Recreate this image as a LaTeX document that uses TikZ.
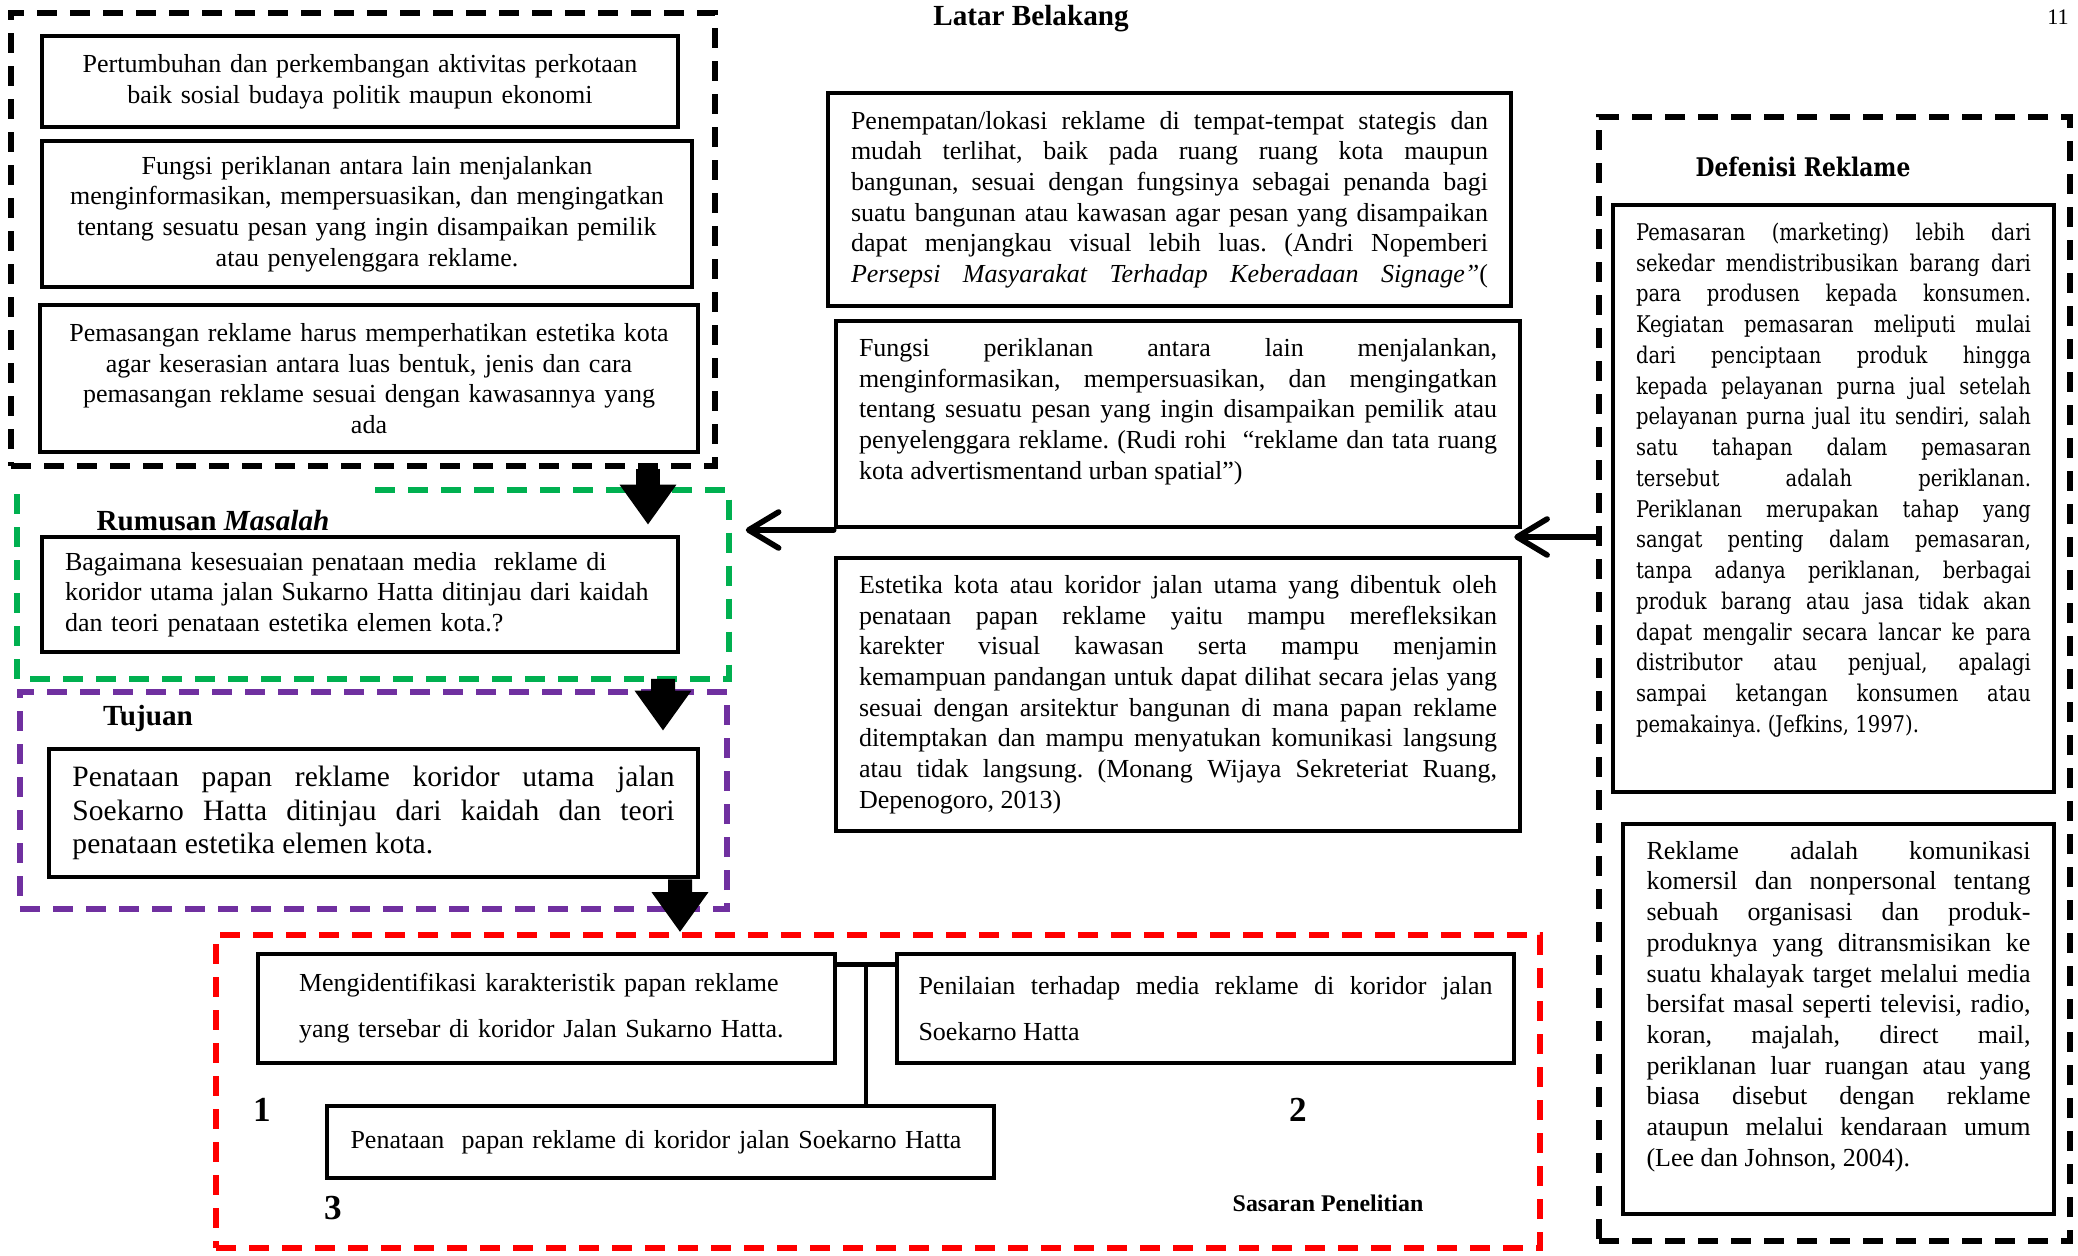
\documentclass[tikz,border=0pt]{standalone}
\usepackage{fontspec}
\setmainfont{Liberation Serif}
\newfontfamily\schoolfont[FakeStretch=0.85]{DejaVu Serif}
\usepackage{xcolor}
\usepackage{tikz}
\usetikzlibrary{arrows.meta,calc}
\definecolor{framegreen}{RGB}{0,176,80}
\definecolor{framepurple}{RGB}{112,48,160}
\definecolor{framered}{RGB}{255,0,0}
\hyphenpenalty=10000
\tolerance=10000
\frenchspacing
\newcommand{\boxfont}{\fontsize{7.4}{8.73}\selectfont}
\newcommand{\tujuanfont}{\fontsize{8.4}{9.6}\selectfont}
\newcommand{\sasaranfont}{\fontsize{7.4}{13.1}\selectfont}
\newcommand{\schoolboxfont}{\schoolfont\fontsize{6.55}{8.75}\selectfont}
\newcommand{\headfont}{\fontsize{8.3}{10}\selectfont\bfseries}
\newcommand{\bottomgap}[1]{\par\vbox to #1{}}

\begin{document}
\begin{tikzpicture}[x=1cm, y=-1cm,
  textbox/.style={draw, rectangle, line width=1.3pt, inner sep=0pt, font=\boxfont},
  dashline/.style={line width=1.6pt, dash pattern=on 0.2cm off 0.13cm},
  dashbox/.style={dashline, rectangle, inner sep=0pt},
  headtext/.style={font=\headfont, inner sep=0pt},
  numlabel/.style={font=\fontsize{10}{12}\selectfont\bfseries, inner sep=0pt},
  blockarrow/.style={line width=0.24cm, -{Triangle[length=0.4cm, width=0.54cm]}},
  linearrow/.style={line width=1.6pt, line cap=round, -{Straight Barb[length=0.3cm, width=0.36cm, round]}},
  link/.style={line width=1.3pt}]
\useasboundingbox (0,0) rectangle (20.78,12.56);

% Latar belakang
\node[headtext] (latarhead) at (10.31,0.19) {Latar Belakang};
\node[font=\fontsize{6.3}{7}\selectfont, inner sep=0pt] (page) at (20.58,0.17) {11};
\node[dashbox, draw=black, minimum width=7.04cm, minimum height=4.53cm] (latar) at (3.63,2.395) {};
\node[textbox, minimum width=6.36cm, minimum height=0.91cm, text width=6.0cm, align=center] (tumbuh) at (3.60,0.815) {Pertumbuhan dan perkembangan aktivitas perkotaan\\ baik sosial budaya politik maupun ekonomi};
\node[textbox, minimum width=6.50cm, minimum height=1.46cm, text width=6.3cm, align=center] (fungsi) at (3.67,2.14) {Fungsi periklanan antara lain menjalankan\\ menginformasikan, mempersuasikan, dan mengingatkan\\ tentang sesuatu pesan yang ingin disampaikan pemilik\\ atau penyelenggara reklame.};
\node[textbox, minimum width=6.58cm, minimum height=1.47cm, text width=6.3cm, align=center] (pasang) at (3.69,3.785) {Pemasangan reklame harus memperhatikan estetika kota\\ agar keserasian antara luas bentuk, jenis dan cara\\ pemasangan reklame sesuai dengan kawasannya yang\\ ada};

% Rumusan masalah
\node[dashbox, minimum width=7.06cm, minimum height=1.83cm] (rumusan) at (3.73,5.845) {};
\draw[dashline, framegreen] ([xshift=3.58cm]rumusan.north west) -- (rumusan.north east) -- (rumusan.south east) -- (rumusan.south west) -- (rumusan.north west) -- ++(0.08,0);
\node[headtext] (rumusanhead) at (2.13,5.21) {Rumusan \textit{Masalah}};
\node[textbox, minimum width=6.36cm, minimum height=1.15cm, text width=5.9cm, align=left] (bagaimana) at (3.60,5.945) {Bagaimana kesesuaian penataan media \ reklame di\\ koridor utama jalan Sukarno Hatta ditinjau dari kaidah\\ dan teori penataan estetika elemen kota.?};

% Tujuan
\node[dashbox, draw=framepurple, minimum width=7.07cm, minimum height=2.17cm] (tujuan) at (3.735,8.005) {};
\node[headtext] (tujuanhead) at (1.48,7.18) {Tujuan};
\node[textbox, font=\tujuanfont, minimum width=6.49cm, minimum height=1.28cm, text width=6.02cm, align=justify] (penataan) at (3.735,8.13) {Penataan papan reklame koridor utama jalan \linebreak Soekarno Hatta ditinjau dari kaidah dan teori \linebreak penataan estetika elemen kota.};

% Sasaran penelitian
\node[dashbox, draw=framered, minimum width=13.24cm, minimum height=3.13cm] (sasaran) at (8.78,10.915) {};
\node[textbox, font=\sasaranfont, minimum width=5.77cm, minimum height=1.09cm, text width=4.95cm, align=left] (identifikasi) at (5.465,10.085) {Mengidentifikasi karakteristik papan reklame\\ yang tersebar di koridor Jalan Sukarno Hatta.};
\node[textbox, font=\sasaranfont, minimum width=6.17cm, minimum height=1.09cm, text width=5.74cm, align=justify] (penilaian) at (12.055,10.085) {Penilaian terhadap media reklame di koridor jalan \linebreak Soekarno Hatta};
\node[textbox, minimum width=6.67cm, minimum height=0.72cm, text width=6.2cm, align=left] (penataanpapan) at (6.605,11.42) {Penataan \ papan reklame di koridor jalan Soekarno Hatta};
\node[numlabel] (num1) at (2.62,11.10) {1};
\node[numlabel] (num2) at (12.98,11.10) {2};
\node[numlabel] (num3) at (3.33,12.08) {3};
\node[font=\fontsize{6.8}{8}\selectfont\bfseries, inner sep=0pt] (sasaranhead) at (13.28,12.03) {Sasaran Penelitian};
\coordinate (tee) at ($(identifikasi.north east)!0.5!(penilaian.north west) + (0,0.13)$);
\draw[link] ([yshift=-0.13cm]identifikasi.north east) -- ([yshift=-0.13cm]penilaian.north west);
\draw[link] (tee) -- (tee |- penataanpapan.north);

% Kutipan tengah
\node[textbox, minimum width=6.83cm, minimum height=2.13cm, text width=6.37cm, align=justify] (lokasi) at (11.695,1.995) {Penempatan/lokasi reklame di tempat-tempat stategis dan \linebreak mudah terlihat, baik pada ruang ruang kota maupun \linebreak bangunan, sesuai dengan fungsinya sebagai penanda bagi \linebreak suatu bangunan atau kawasan agar pesan yang disampaikan \linebreak dapat menjangkau visual lebih luas. (Andri Nopemberi \linebreak \makebox[\linewidth][s]{\textit{Persepsi Masyarakat Terhadap Keberadaan Signage”}(}};
\node[textbox, minimum width=6.84cm, minimum height=2.06cm, text width=6.38cm, align=justify] (fungsitengah) at (11.78,4.24) {Fungsi periklanan antara lain menjalankan, \linebreak menginformasikan, mempersuasikan, dan mengingatkan \linebreak tentang sesuatu pesan yang ingin disampaikan pemilik atau \linebreak penyelenggara reklame. (Rudi rohi \ “reklame dan tata ruang \linebreak kota advertismentand urban spatial”)\bottomgap{0.24cm}};
\node[textbox, minimum width=6.84cm, minimum height=2.73cm, text width=6.38cm, align=justify] (estetika) at (11.78,6.945) {Estetika kota atau koridor jalan utama yang dibentuk oleh \linebreak penataan papan reklame yaitu mampu merefleksikan \linebreak karekter visual kawasan serta mampu menjamin \linebreak kemampuan pandangan untuk dapat dilihat secara jelas yang \linebreak sesuai dengan arsitektur bangunan di mana papan reklame \linebreak ditemptakan dan mampu menyatukan komunikasi langsung \linebreak atau tidak langsung. (Monang Wijaya Sekreteriat Ruang, \linebreak Depenogoro, 2013)};

% Defenisi reklame
\node[dashbox, draw=black, minimum width=4.71cm, minimum height=11.24cm] (defenisi) at (18.345,6.79) {};
\node[font=\schoolfont\fontsize{7.3}{8}\selectfont\bfseries, inner sep=0pt] (defhead) at (18.03,1.67) {Defenisi Reklame};
\node[textbox, font=\schoolboxfont, minimum width=4.41cm, minimum height=5.87cm, text width=3.95cm, align=justify] (pemasaran) at (18.335,4.985) {Pemasaran (marketing) lebih dari \linebreak sekedar mendistribusikan barang dari \linebreak para produsen kepada konsumen. \linebreak Kegiatan pemasaran meliputi mulai \linebreak dari penciptaan produk hingga \linebreak kepada pelayanan purna jual setelah \linebreak pelayanan purna jual itu sendiri, salah \linebreak satu tahapan dalam pemasaran \linebreak tersebut adalah periklanan. \linebreak Periklanan merupakan tahap yang \linebreak sangat penting dalam pemasaran, \linebreak tanpa adanya periklanan, berbagai \linebreak produk barang atau jasa tidak akan \linebreak dapat mengalir secara lancar ke para \linebreak distributor atau penjual, apalagi \linebreak sampai ketangan konsumen atau \linebreak pemakainya. (Jefkins, 1997).\bottomgap{0.33cm}};
\node[textbox, minimum width=4.31cm, minimum height=3.90cm, text width=3.84cm, align=justify] (reklame) at (18.385,10.19) {Reklame adalah komunikasi \linebreak komersil dan nonpersonal tentang \linebreak sebuah organisasi dan produk-\linebreak produknya yang ditransmisikan ke \linebreak suatu khalayak target melalui media \linebreak bersifat masal seperti televisi, radio, \linebreak koran, majalah, direct mail, \linebreak periklanan luar ruangan atau yang \linebreak biasa disebut dengan reklame \linebreak ataupun melalui kendaraan umum \linebreak (Lee dan Johnson, 2004).\bottomgap{0.18cm}};

% Panah
\coordinate (rowleft) at (0,5.30);
\coordinate (rowright) at (0,5.37);
\draw[linearrow, shorten >=0.17cm] (fungsitengah.west |- rowleft) -- (rumusan.east |- rowleft);
\draw[linearrow, shorten >=-0.08cm] (defenisi.west |- rowright) -- (fungsitengah.east |- rowright);
\draw[blockarrow] ([xshift=2.85cm]latar.south) -- ([xshift=2.88cm,yshift=0.1cm]bagaimana.north);
\draw[blockarrow] ([xshift=2.90cm]rumusan.south) -- ([xshift=2.895cm,yshift=0.16cm]penataan.north);
\draw[blockarrow] ([xshift=3.065cm]penataan.south) -- ([xshift=-1.98cm]sasaran.north);
\end{tikzpicture}
\end{document}
